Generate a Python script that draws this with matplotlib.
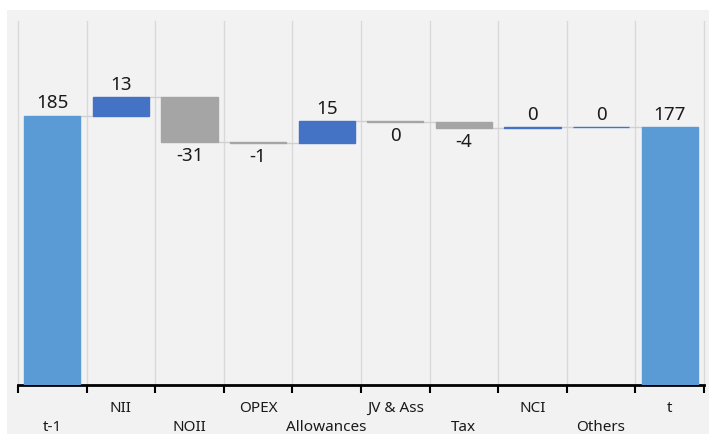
import numpy as np
import matplotlib
matplotlib.use("Agg")
import matplotlib.pyplot as plt
from matplotlib.patches import Rectangle

plt.rcParams['font.family'] = ['Noto Sans', 'DejaVu Sans']

# Bridge steps from the opening level (t-1) to the closing level (t)
categories = ["t-1", "NII", "NOII", "OPEX", "Allowances", "JV & Ass", "Tax", "NCI", "Others", "t"]
values = [185, 13, -31, -1, 15, -0.3, -4, 0.2, 0.2, 177]
is_total = [True, False, False, False, False, False, False, False, False, True]

total_color = "#5b9bd5"
up_color = "#4472c4"
down_color = "#a5a5a5"

W, H = 709, 435
fig = plt.figure(figsize=(W / 100, H / 100), dpi=100, facecolor="white")
fig.patches.append(Rectangle((7 / W, 0), 1, (H - 11) / H, transform=fig.transFigure,
                             facecolor="#f2f2f2", edgecolor="none", zorder=-10))

ax = fig.add_axes([18 / W, 49 / H, 686 / W, 364 / H])
ax.set_facecolor("none")

x = np.arange(len(categories))
bottoms, heights, colors, levels = [], [], [], []
running = 0.0
for v, tot in zip(values, is_total):
    if tot:
        bottoms.append(0.0)
        heights.append(v)
        colors.append(total_color)
        running = v
    else:
        bottoms.append(running)
        heights.append(v)
        colors.append(up_color if v >= 0 else down_color)
        running += v
    levels.append(running)

bw = 0.82
ax.bar(x, heights, bottom=bottoms, width=bw, color=colors, edgecolor=colors,
       linewidth=1.0, zorder=3)

# connectors between consecutive bars
for i in range(len(x) - 1):
    ax.plot([x[i] + bw / 2, x[i + 1] - bw / 2], [levels[i], levels[i]],
            color="#d0d0d0", lw=1, zorder=2)

# value labels
for i, (b, h) in enumerate(zip(bottoms, heights)):
    label = f"{int(round(values[i]))}"
    if h >= 0:
        ax.annotate(label, (x[i], b + h), xytext=(0, 3), textcoords="offset points",
                    ha="center", va="bottom", fontsize=13.5, color="#1a1a1a")
    else:
        ax.annotate(label, (x[i], b + h), xytext=(0, -3), textcoords="offset points",
                    ha="center", va="top", fontsize=13.5, color="#1a1a1a")

ax.set_xlim(-0.5, len(x) - 0.5)
ax.set_ylim(0, 250)

bounds = np.arange(-0.5, len(x), 1.0)
ax.set_xticks(bounds)
ax.set_xticklabels([])
ax.tick_params(axis="x", direction="out", length=6, width=1.5, color="black")
ax.set_yticks([])
ax.xaxis.grid(True, color="#d9d9d9", lw=1, zorder=0)
for gl in ax.get_xgridlines():
    gl.set_clip_on(False)

for side in ["top", "left", "right"]:
    ax.spines[side].set_visible(False)
ax.spines["bottom"].set_color("black")
ax.spines["bottom"].set_linewidth(2)

# category labels in two staggered rows
for i, name in enumerate(categories):
    off = -16 if i % 2 == 1 else -30
    ax.annotate(name, (x[i], 0), xycoords=("data", "axes fraction"),
                xytext=(0, off), textcoords="offset points",
                ha="center", va="center", fontsize=11, color="#1a1a1a")

fig.savefig("out.png", dpi=100, facecolor="white")
